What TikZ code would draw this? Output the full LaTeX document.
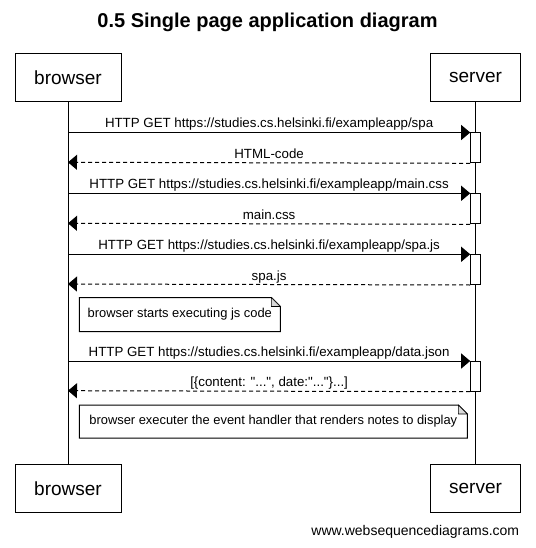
\documentclass[tikz,border=0pt]{standalone}
\usepackage{fontspec}
\setmainfont{Liberation Sans}[Ligatures=TeXOff]
\usetikzlibrary{arrows.meta,positioning}
\tikzset{
  actor/.style={draw, minimum width=#1, minimum height=48.5pt, font=\fontsize{19}{22}\selectfont},
  actbox/.style={draw, fill=white, minimum width=10pt, inner sep=0pt, anchor=north},
  msg/.style={-{Triangle[length=9pt,width=15pt]}},
  reply/.style={msg, dash pattern=on 4pt off 3pt},
  lbl/.style={above, inner sep=1pt, text depth=3pt},
  note/.style={anchor=north west, inner sep=0pt, font=\fontsize{12.9}{15}\selectfont}
}
\begin{document}
\begin{tikzpicture}[x=1pt, y=-1pt, line width=1pt, every node/.style={font=\fontsize{13.3}{15}\selectfont}]
  \useasboundingbox (0,0) rectangle (535,548);
  \node[font=\fontsize{20}{24}\selectfont\bfseries, anchor=base] (title) at (267.5,27.5) {0.5 Single page application diagram};
  % participants, top and bottom, with their lifelines
  \node[actor=106pt] (bt) at (68,77.5) {browser};
  \node[actor=90pt] (st) at (475.5,77.5) {server};
  \node[actor=106pt] (bb) at (68,488.5) {browser};
  \node[actor=90pt] (sb) at (475.5,488.5) {server};
  \draw (bt) -- (bb);
  \draw (st) -- (sb);
  \node[anchor=base east, font=\fontsize{14}{16}\selectfont] (site) at (523,535.5) {www.websequencediagrams.com};
  % requests: y of request / y of reply / file
  \foreach \y/\z/\f [count=\i] in {132.5/162.3/spa, 193.3/223.3/main.css, 254.3/284/spa.js, 361/390.7/data.json} {
    \pgfmathsetmacro\h{\z-\y}
    \node[actbox, minimum height=\h pt] (act\i) at (475.7,\y) {};
    \coordinate (q\i) at (68,\y);
    \coordinate (r\i) at (68,\z);
    \draw[msg] (q\i) -- (act\i.north west) node[lbl, midway] {HTTP GET https://studies.cs.helsinki.fi/exampleapp/\f};
  }
  \draw[reply] (act1.south west) -- (r1) node[lbl, midway] {HTML-code};
  \draw[reply] (act2.south west) -- (r2) node[lbl, midway] {main.css};
  \draw[reply] (act3.south west) -- (r3) node[lbl, midway] {spa.js};
  \draw[reply] (act4.south west) -- (r4) node[lbl, midway] {[\{content: "...", date:"..."\}...]};
  % notes with a folded corner
  \node[note, minimum width=200pt, minimum height=33pt] (n1) at (79.3,297.5) {browser starts executing js code};
  \node[note, minimum width=387pt, minimum height=32pt] (n2) at (79.3,405) {browser executer the event handler that renders notes to display};
  \foreach \n in {n1,n2} {
    \draw (\n.north west) -- ([xshift=-9pt]\n.north east) -- ([yshift=-9pt]\n.north east) -- (\n.south east) -- (\n.south west) -- cycle;
    \filldraw[fill=black!15, line width=0.6pt] ([xshift=-9pt]\n.north east) -- ([xshift=-9pt,yshift=-9pt]\n.north east) -- ([yshift=-9pt]\n.north east) -- cycle;
  }
\end{tikzpicture}
\end{document}
